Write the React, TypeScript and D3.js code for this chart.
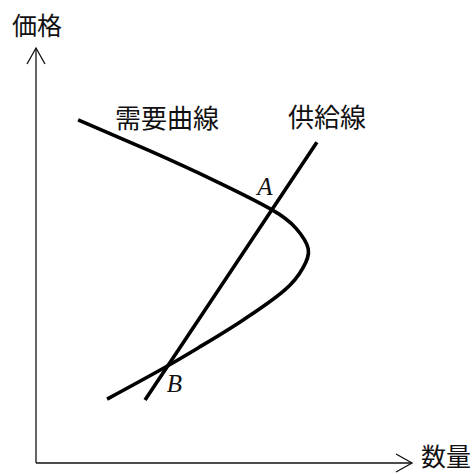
import React from "react";
import * as d3 from "d3";

const W = 476;
const H = 474;

// Demand curve points (quantity, price) in abstract units 0..100
const demandQ = [11.2, 30.3, 47.6, 62.8, 69.1, 72.4, 71.0, 66.2, 54.3, 43.6, 34.0, 18.9];
const demandP = [82.7, 75.2, 68.0, 61.0, 56.6, 51.6, 47.0, 41.7, 34.0, 28.0, 22.9, 15.4];

// Supply line endpoints
const supplyQ = [29.0, 74.7];
const supplyP = [15.2, 77.3];

// Labeled points
const pointNames = ["A", "B"];
const pointQ = [62.8, 34.0];
const pointP = [61.0, 22.9];

const axisLabels = { x: "数量", y: "価格" };
const curveLabels = ["需要曲線", "供給線"];

export default function App() {
  const x = d3.scaleLinear().domain([0, 100]).range([36, 412]);
  const y = d3.scaleLinear().domain([0, 100]).range([463, 48]);

  const line = d3
    .line<[number, number]>()
    .x((d) => x(d[0]))
    .y((d) => y(d[1]))
    .curve(d3.curveNatural);

  const demand: [number, number][] = demandQ.map((q, i) => [q, demandP[i]]);
  const supply: [number, number][] = supplyQ.map((q, i) => [q, supplyP[i]]);
  const straight = d3
    .line<[number, number]>()
    .x((d) => x(d[0]))
    .y((d) => y(d[1]));

  const x0 = x(0);
  const y0 = y(0);
  const xEnd = x(100);
  const yEnd = y(100);
  const cjk = "'Noto Sans CJK JP', sans-serif";

  return (
    <svg
      width={W}
      height={H}
      style={{ position: "absolute", left: 0, top: 0, background: "#fff" }}
    >
      {/* axes */}
      <g stroke="#111" strokeWidth={1.3} fill="none">
        <line x1={x0} y1={y0} x2={xEnd} y2={y0} />
        <line x1={x0} y1={y0} x2={x0} y2={yEnd} />
        <polyline points={`${xEnd - 16},${y0 - 9} ${xEnd},${y0} ${xEnd - 16},${y0 + 9}`} />
        <polyline points={`${x0 - 9},${yEnd + 16} ${x0},${yEnd} ${x0 + 9},${yEnd + 16}`} />
      </g>
      <text x={12} y={35} fontFamily={cjk} fontSize={25} fill="#111">
        {axisLabels.y}
      </text>
      <text x={421} y={466} fontFamily={cjk} fontSize={25} fill="#111">
        {axisLabels.x}
      </text>

      {/* curves */}
      <path d={line(demand) || ""} fill="none" stroke="#000" strokeWidth={3.6} />
      <path d={straight(supply) || ""} fill="none" stroke="#000" strokeWidth={3.6} />

      <text x={115} y={128} fontFamily={cjk} fontSize={26} fill="#111">
        {curveLabels[0]}
      </text>
      <text x={288} y={127} fontFamily={cjk} fontSize={26} fill="#111">
        {curveLabels[1]}
      </text>

      {pointNames.map((n, i) => (
        <text
          key={n}
          x={x(pointQ[i]) + (i === 0 ? -15 : 3)}
          y={y(pointP[i]) + (i === 0 ? -15 : 24)}
          fontFamily="'Liberation Serif', serif"
          fontStyle="italic"
          fontSize={25}
          fill="#111"
        >
          {n}
        </text>
      ))}
    </svg>
  );
}
